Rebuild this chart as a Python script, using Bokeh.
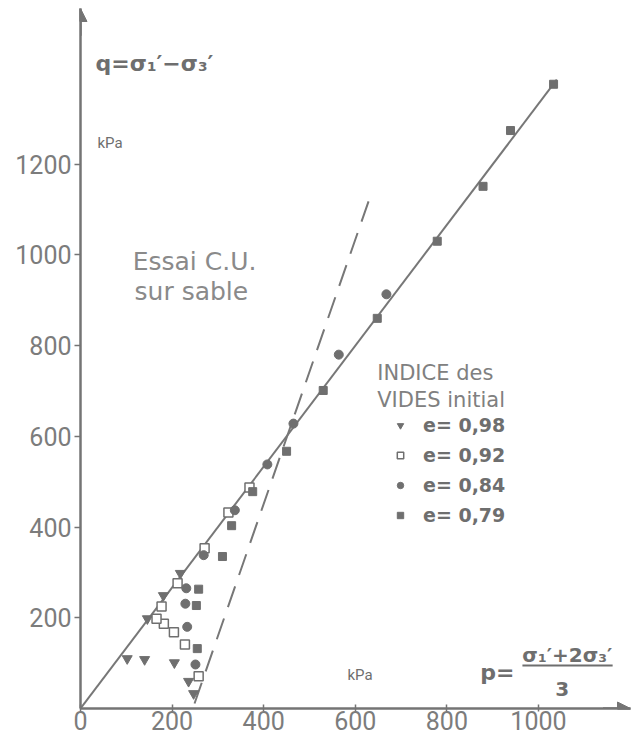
from bokeh.plotting import figure
from bokeh.models import (Range1d, FixedTicker, Label, Legend, LegendItem, Arrow,
                          NormalHead)
from bokeh.embed import file_html
from bokeh.resources import INLINE

# ---------------- data ----------------
p_098 = [102, 140, 205, 236, 247, 146, 181, 218]
q_098 = [110, 108, 101, 60, 33, 198, 249, 298]

p_092 = [258, 228, 204, 182, 166, 177, 212, 271, 323, 369]
q_092 = [71, 141, 168, 187, 198, 225, 276, 353, 432, 487]

p_084 = [251, 233, 229, 231, 269, 337, 408, 465, 564, 668]
q_084 = [97, 180, 231, 265, 338, 437, 538, 628, 780, 913]

p_079 = [255, 253, 258, 310, 330, 376, 450, 530, 648, 779, 879, 939, 1033]
q_079 = [132, 227, 263, 335, 403, 478, 567, 701, 860, 1030, 1151, 1274, 1376]

fit_p = [0, 1040]
fit_q = [0, 1386]
dash_p = [249, 629]
dash_q = [11, 1118]

x_ticks = [0, 200, 400, 600, 800, 1000]
y_ticks = [200, 400, 600, 800, 1000, 1200]

series_labels = ["e= 0,98", "e= 0,92", "e= 0,84", "e= 0,79"]

X_END = 1201
Y_END = 1543

GREY = "#747474"
TXT = "#6e6e6e"
LIGHT = "#8a8a8a"
TICKF = "Roboto"
SANS = "DejaVu Sans"

p = figure(width=636, height=740, output_backend="svg", toolbar_location=None,
           x_range=Range1d(0, X_END), y_range=Range1d(0, Y_END),
           min_border_left=80, min_border_right=6, min_border_top=8,
           min_border_bottom=32)
p.grid.visible = False
p.outline_line_color = None
p.background_fill_color = "white"
p.border_fill_color = "white"

for ax in (p.xaxis[0], p.yaxis[0]):
    ax.axis_line_color = GREY
    ax.axis_line_width = 2.5
    ax.major_tick_line_color = GREY
    ax.major_tick_line_width = 1.5
    ax.minor_tick_line_color = None
    ax.major_label_text_font = TICKF
    ax.major_label_text_font_size = "25px"
    ax.major_label_text_color = "#7c7c7c"
p.xaxis.ticker = FixedTicker(ticks=x_ticks)
p.yaxis.ticker = FixedTicker(ticks=y_ticks)
p.xaxis.major_tick_in = 4
p.xaxis.major_tick_out = 3
p.xaxis.major_label_standoff = -1
p.yaxis.major_tick_in = 0
p.yaxis.major_tick_out = 6
p.yaxis.major_label_standoff = 3

# axis arrow heads
p.add_layout(Arrow(end=NormalHead(size=13, fill_color=GREY, line_color=GREY),
                   x_start=0, y_start=Y_END - 60, x_end=0, y_end=Y_END,
                   line_color=GREY, line_width=2.5))
p.add_layout(Arrow(end=NormalHead(size=13, fill_color=GREY, line_color=GREY),
                   x_start=X_END - 60, y_start=0, x_end=X_END, y_end=0,
                   line_color=GREY, line_width=2.5))

# lines
p.line(fit_p, fit_q, line_color="#777777", line_width=2)
p.line(dash_p, dash_q, line_color="#777777", line_width=2, line_dash="22 12")

MC = "#6f6f6f"
r1 = p.scatter(p_098, q_098, marker="inverted_triangle", size=10,
               fill_color=MC, line_color=MC)
r2 = p.scatter(p_092, q_092, marker="square", size=9,
               fill_color="white", line_color=MC, line_width=1.5)
r3 = p.scatter(p_084, q_084, marker="circle", size=9,
               fill_color=MC, line_color=MC)
r4 = p.scatter(p_079, q_079, marker="square", size=8,
               fill_color=MC, line_color=MC)

legend = Legend(items=[LegendItem(label=lab, renderers=[r])
                       for lab, r in zip(series_labels, [r1, r2, r3, r4])],
                location=(312, 182), padding=0, margin=0, spacing=8,
                glyph_height=22, glyph_width=16, label_height=22,
                label_standoff=15, label_text_font=SANS,
                label_text_font_size="19px", label_text_font_style="bold",
                label_text_color=TXT, border_line_color=None,
                background_fill_alpha=0)
p.add_layout(legend)


def lab(x, y, text, size, font=SANS, style="normal", color=TXT,
        align="left", baseline="alphabetic", xo=0, yo=0):
    p.add_layout(Label(x=x, y=y, text=text, text_font=font,
                       text_font_size=size, text_font_style=style,
                       text_color=color, text_align=align,
                       text_baseline=baseline, x_offset=xo, y_offset=yo))


lab(33, 1422, "q=σ₁′−σ₃′", "22px", style="bold")
lab(37, 1246, "kPa", "15px", font="Roboto")
lab(583, 73, "kPa", "15px", font="Roboto")
lab(114, 985, "Essai C.U.", "25px", color=LIGHT)
lab(118, 919, "sur sable", "25px", color=LIGHT)
lab(648, 739, "INDICE des", "21px", color="#808080")
lab(648, 679, "VIDES initial", "21px", color="#808080")
lab(873, 79, "p=", "22px", style="bold")
lab(1063, 117, "σ₁′+2σ₃′", "20px", style="bold", align="center")
lab(1052, 44, "3", "20px", style="bold", align="center")
p.add_layout(Arrow(end=None, x_start=965, y_start=95, x_end=1162, y_end=95,
                   line_color=TXT, line_width=2))

open("out.html", "w").write(file_html(p, INLINE))
